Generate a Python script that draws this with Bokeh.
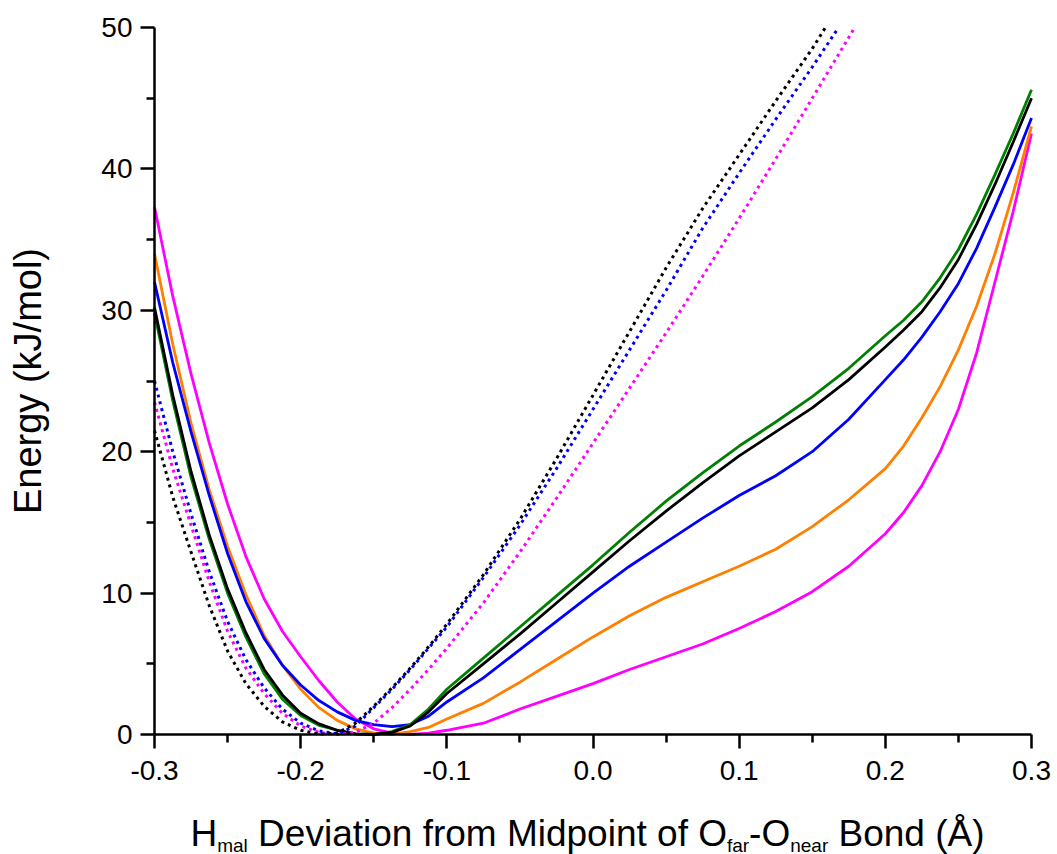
from bokeh.plotting import figure
from bokeh.models import FixedTicker, PrintfTickFormatter, Range1d
from bokeh.core.properties import value
from bokeh.embed import file_html
from bokeh.resources import INLINE

# ---------------- data ----------------
x_solid = [-0.3, -0.2875, -0.275, -0.2625, -0.25, -0.2375, -0.225, -0.2125, -0.2, -0.1875,
           -0.175, -0.1625, -0.15, -0.1375, -0.125, -0.1125, -0.1, -0.075, -0.05, -0.025,
           0.0, 0.025, 0.05, 0.075, 0.1, 0.125, 0.15, 0.175, 0.2, 0.2125,
           0.225, 0.2375, 0.25, 0.2625, 0.275, 0.2875, 0.3]
e_green = [29.8, 23.6, 18.2, 13.8, 10.0, 6.9, 4.3, 2.5, 1.35, 0.65,
           0.3, 0.05, 0.0, 0.2, 0.7, 1.8, 3.2, 5.4, 7.6, 9.8,
           12.0, 14.3, 16.5, 18.5, 20.4, 22.1, 23.9, 25.9, 28.2, 29.3,
           30.6, 32.3, 34.3, 36.8, 39.6, 42.5, 45.6]
e_black = [30.2, 24.0, 18.6, 14.1, 10.3, 7.2, 4.6, 2.8, 1.5, 0.75,
           0.3, 0.05, 0.0, 0.15, 0.6, 1.6, 2.9, 5.0, 7.1, 9.3,
           11.5, 13.7, 15.8, 17.8, 19.7, 21.4, 23.1, 25.1, 27.4, 28.6,
           29.9, 31.6, 33.6, 36.1, 38.9, 41.9, 45.0]
e_blue = [32.0, 26.3, 21.4, 16.9, 12.8, 9.4, 6.8, 4.9, 3.5, 2.4,
          1.6, 1.0, 0.7, 0.55, 0.7, 1.3, 2.3, 4.0, 6.0, 8.0,
          10.0, 11.9, 13.6, 15.3, 16.9, 18.3, 20.0, 22.3, 25.1, 26.5,
          28.1, 29.9, 31.9, 34.4, 37.3, 40.3, 43.6]
e_orange = [34.0, 27.6, 22.0, 17.3, 13.3, 9.9, 7.0, 4.9, 3.2, 1.9,
            1.0, 0.4, 0.1, 0.0, 0.2, 0.5, 1.1, 2.2, 3.7, 5.3,
            6.9, 8.4, 9.7, 10.8, 11.9, 13.1, 14.7, 16.6, 18.8, 20.4,
            22.4, 24.6, 27.2, 30.3, 34.0, 38.3, 43.0]
e_magenta = [37.3, 31.0, 25.5, 20.6, 16.3, 12.6, 9.6, 7.3, 5.5, 3.8,
             2.3, 1.1, 0.4, 0.1, 0.0, 0.1, 0.3, 0.8, 1.8, 2.7,
             3.6, 4.6, 5.5, 6.4, 7.5, 8.7, 10.1, 11.9, 14.2, 15.7,
             17.6, 20.0, 23.0, 27.0, 32.0, 37.0, 42.5]

# dotted curves end where they leave the top of the axis (E = 50)
x_dot_black = [-0.3, -0.2875, -0.275, -0.2625, -0.25, -0.2375, -0.225, -0.2125, -0.2, -0.1875,
               -0.175, -0.1625, -0.15, -0.1375, -0.125, -0.1125, -0.1, -0.075, -0.05, -0.025,
               0.0, 0.025, 0.05, 0.075, 0.1, 0.125, 0.15, 0.159]
d_black = [21.5, 16.8, 12.9, 9.1, 5.9, 3.6, 2.0, 0.9, 0.3, 0.02,
           0.1, 0.8, 2.0, 3.3, 4.7, 6.2, 7.8, 11.3, 15.2, 19.5,
           24.0, 28.5, 33.0, 37.2, 41.0, 44.8, 48.5, 50.0]
x_dot_blue = [-0.3, -0.2875, -0.275, -0.2625, -0.25, -0.2375, -0.225, -0.2125, -0.2, -0.1875,
              -0.175, -0.1625, -0.15, -0.1375, -0.125, -0.1125, -0.1, -0.075, -0.05, -0.025,
              0.0, 0.025, 0.05, 0.075, 0.1, 0.125, 0.15, 0.168]
d_blue = [25.0, 20.0, 15.6, 11.5, 8.0, 5.3, 3.3, 1.8, 0.8, 0.25,
          0.05, 0.6, 1.9, 3.2, 4.6, 6.1, 7.6, 11.1, 14.8, 18.8,
          23.0, 27.2, 31.4, 35.8, 39.7, 43.5, 47.2, 50.0]
x_dot_magenta = [-0.3, -0.2875, -0.275, -0.2625, -0.25, -0.2375, -0.225, -0.2125, -0.2, -0.1875,
                 -0.175, -0.1625, -0.15, -0.1375, -0.125, -0.1125, -0.1, -0.075, -0.05, -0.025,
                 0.0, 0.025, 0.05, 0.075, 0.1, 0.125, 0.15, 0.175, 0.179]
d_magenta = [23.5, 18.8, 14.8, 10.8, 7.3, 4.7, 2.9, 1.5, 0.6, 0.15,
             0.0, 0.15, 0.8, 1.9, 3.2, 4.6, 6.1, 9.3, 12.9, 16.7,
             20.6, 24.5, 28.4, 32.4, 36.5, 40.7, 45.0, 49.3, 50.0]

x_ticks = [-0.3, -0.2, -0.1, 0.0, 0.1, 0.2, 0.3]
x_minor = [-0.25, -0.15, -0.05, 0.05, 0.15, 0.25]
y_ticks = [0, 10, 20, 30, 40, 50]
y_minor = [5, 15, 25, 35, 45]

# ---------------- layout ----------------
W, H = 1057, 854
FL, FR, FT, FB = 154, 1031, 27, 734      # pixel box of the data area (x -0.3..0.3, E 0..50)
FONT = "Liberation Sans"
X_PER_PX = 0.6 / (FR - FL)
Y_PER_PX = 50.0 / (FB - FT)


def px_to_x(px):
    return -0.3 + (px - FL) * X_PER_PX


def py_to_y(py):
    return (FB - py) * Y_PER_PX


# the frame fills the whole canvas; both axes are pinned at x=-0.3 and E=0
p = figure(width=W, height=H, output_backend="svg", toolbar_location=None,
           x_range=Range1d(px_to_x(0), px_to_x(W)),
           y_range=Range1d(py_to_y(H), py_to_y(0)),
           min_border_left=0, min_border_right=0,
           min_border_top=0, min_border_bottom=0)
p.outline_line_color = None
p.xgrid.visible = False
p.ygrid.visible = False
p.background_fill_color = "white"
p.border_fill_color = "white"

for ax in (p.xaxis[0], p.yaxis[0]):
    ax.axis_line_width = 2.5
    ax.axis_line_color = "black"
    ax.major_tick_line_width = 2.5
    ax.minor_tick_line_width = 2.5
    ax.major_tick_line_color = "black"
    ax.minor_tick_line_color = "black"
    ax.major_tick_in = 0
    ax.major_tick_out = 14
    ax.minor_tick_in = 0
    ax.minor_tick_out = 8
    ax.major_label_text_font = FONT
    ax.major_label_text_font_size = "28px"
    ax.major_label_text_color = "black"

p.xaxis.ticker = FixedTicker(ticks=x_ticks, minor_ticks=x_minor)
p.xaxis.formatter = PrintfTickFormatter(format="%.1f")
p.xaxis.major_label_standoff = 12
p.xaxis.fixed_location = 0
p.xaxis.bounds = (-0.3, 0.3)

p.yaxis.ticker = FixedTicker(ticks=y_ticks, minor_ticks=y_minor)
p.yaxis.major_label_standoff = 8
p.yaxis.fixed_location = -0.3
p.yaxis.bounds = (0, 50)
p.yaxis.axis_label = "Energy (kJ/mol)"
p.yaxis.axis_label_text_font = FONT
p.yaxis.axis_label_text_font_size = "38px"
p.yaxis.axis_label_text_font_style = "normal"
p.yaxis.axis_label_text_color = "black"
p.yaxis.axis_label_standoff = 49

# curves
LW = 2.8
p.line(x_solid, e_magenta, line_color="#FF00FF", line_width=LW)
p.line(x_solid, e_orange, line_color="#FF8000", line_width=LW)
p.line(x_solid, e_blue, line_color="#0000FF", line_width=LW)
p.line(x_solid, e_green, line_color="#008000", line_width=LW)
p.line(x_solid, e_black, line_color="#000000", line_width=LW)
p.line(x_dot_magenta, d_magenta, line_color="#FF00FF", line_width=3, line_dash="3 4")
p.line(x_dot_blue, d_blue, line_color="#0000FF", line_width=3, line_dash="3 4")
p.line(x_dot_black, d_black, line_color="#000000", line_width=3, line_dash="3 4")

# ---------------- x-axis title with subscripts ----------------
CW = {' ': 278, '(': 333, ')': 333, '-': 333, 'B': 667, 'D': 722, 'H': 722,
      'M': 833, 'O': 778, 'Å': 667, 'a': 556, 'd': 556, 'e': 556, 'f': 278,
      'i': 222, 'l': 222, 'm': 833, 'n': 556, 'o': 556, 'p': 556, 'r': 333,
      't': 278, 'v': 500}
MAIN, SUB = 37, 19
MAIN_BASE, SUB_BASE = 833.0, 844.5
pieces = [("H", False), ("mal", True), (" Deviation from Midpoint of O", False),
          ("far", True), ("-O", False), ("near", True), (" Bond (Å)", False)]

main_x, main_y, main_t = [], [], []
sub_x, sub_y, sub_t = [], [], []
cur = 190.0
for txt, is_sub in pieces:
    size = SUB if is_sub else MAIN
    while txt.startswith(" "):          # svg drops leading blanks: advance instead
        cur += CW[' '] * size / 1000.0
        txt = txt[1:]
    if is_sub:
        sub_x.append(px_to_x(cur)); sub_y.append(py_to_y(SUB_BASE)); sub_t.append(txt)
    else:
        main_x.append(px_to_x(cur)); main_y.append(py_to_y(MAIN_BASE)); main_t.append(txt)
    cur += sum(CW[c] for c in txt) * size / 1000.0

p.text(x=main_x, y=main_y, text=main_t, text_font=value(FONT),
       text_font_size=f"{MAIN}px", text_color="black",
       text_align="left", text_baseline="alphabetic")
p.text(x=sub_x, y=sub_y, text=sub_t, text_font=value(FONT),
       text_font_size=f"{SUB}px", text_color="black",
       text_align="left", text_baseline="alphabetic")

open("out.html", "w").write(file_html(p, INLINE))
